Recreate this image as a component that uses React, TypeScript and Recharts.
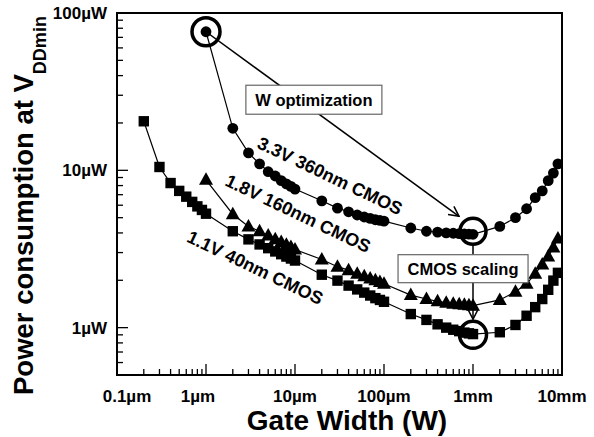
import React from 'react';
import {
  LineChart,
  Line,
  XAxis,
  YAxis,
  ReferenceLine,
  ReferenceDot,
  ReferenceArea,
} from 'recharts';

// gate width in um, power in uW
const wCircle = [1, 2, 3, 4, 5, 6, 7, 8, 9, 10, 20, 30, 40, 50, 60, 70, 80, 90, 100, 200, 300, 400, 500, 600, 700, 800, 900, 1000, 2000, 3000, 4000, 5000, 6000, 7000, 8000, 9000];
const pCircle = [76, 18.5, 12.9, 11.0, 9.8, 9.2, 8.6, 8.2, 7.9, 7.6, 6.4, 5.75, 5.45, 5.2, 5.05, 4.95, 4.85, 4.8, 4.75, 4.3, 4.1, 4.05, 4.0, 3.98, 3.96, 3.94, 3.93, 3.92, 4.4, 5.0, 5.7, 6.7, 7.4, 8.6, 9.6, 11.0];

const wTriangle = [1, 2, 3, 4, 5, 6, 7, 8, 9, 10, 20, 30, 40, 50, 60, 70, 80, 90, 100, 200, 300, 400, 500, 600, 700, 800, 900, 1000, 2000, 3000, 4000, 5000, 6000, 7000, 8000, 9000];
const pTriangle = [8.7, 5.26, 4.4, 4.1, 3.85, 3.65, 3.5, 3.37, 3.25, 3.14, 2.71, 2.44, 2.32, 2.2, 2.12, 2.05, 2.0, 1.95, 1.9, 1.61, 1.52, 1.47, 1.44, 1.42, 1.41, 1.4, 1.39, 1.38, 1.5, 1.69, 1.9, 2.2, 2.52, 2.83, 3.23, 3.69];

const wSquare = [0.2, 0.3, 0.4, 0.5, 0.6, 0.7, 0.8, 0.9, 1, 2, 3, 4, 5, 6, 7, 8, 9, 10, 20, 30, 40, 50, 60, 70, 80, 90, 100, 200, 300, 400, 500, 600, 700, 800, 900, 1000, 2000, 3000, 4000, 5000, 6000, 7000, 8000, 9000];
const pSquare = [20.5, 10.5, 8.3, 7.4, 6.8, 6.3, 5.9, 5.6, 5.3, 4.1, 3.64, 3.38, 3.2, 3.05, 2.93, 2.83, 2.75, 2.67, 2.17, 1.99, 1.85, 1.75, 1.67, 1.6, 1.54, 1.5, 1.46, 1.22, 1.12, 1.05, 1.0, 0.97, 0.95, 0.93, 0.92, 0.91, 0.935, 1.04, 1.19, 1.35, 1.52, 1.74, 1.99, 2.23];

const xMajor = [0.1, 1, 10, 100, 1000, 10000];
const xLabels = ['0.1\u00b5m', '1\u00b5m', '10\u00b5m', '100\u00b5m', '1mm', '10mm'];
const yMajor = [1, 10, 100];
const yLabels = ['1\u00b5W', '10\u00b5W', '100\u00b5W'];

const FONT = '"Liberation Sans", Arial, sans-serif';

const withMinors = (majors: number[], lo: number, hi: number) => {
  const out: number[] = [];
  majors.forEach((d) => {
    for (let k = 1; k <= 9; k++) {
      const v = Number((d * k).toPrecision(3));
      if (v >= lo && v <= hi) out.push(v);
    }
  });
  return out;
};

const xTicks = withMinors([0.1, 1, 10, 100, 1000, 10000], 0.1, 10000);
const yTicks = withMinors([0.1, 1, 10, 100], 0.5, 100);

const toPoints = (xs: number[], ys: number[]) => xs.map((w, i) => ({ w, p: ys[i] }));
const circleData = toPoints(wCircle, pCircle);
const triangleData = toPoints(wTriangle, pTriangle);
const squareData = toPoints(wSquare, pSquare);

const XTick = (props: any) => {
  const { x, y, payload } = props;
  const i = xMajor.indexOf(payload.value);
  const major = i >= 0;
  const nudge = i === 0 ? 10 : i === 1 ? -8 : 0;
  return (
    <g>
      <line x1={x} x2={x} y1={y} y2={y - (major ? 11 : 6)} stroke="#000" strokeWidth={1.3} />
      {major && (
        <text x={x + nudge} y={y + 27} textAnchor="middle" fontFamily={FONT} fontWeight="bold" fontSize={17} fill="#000">
          {xLabels[i]}
        </text>
      )}
    </g>
  );
};

const YTick = (props: any) => {
  const { x, y, payload } = props;
  const i = yMajor.indexOf(payload.value);
  const major = i >= 0;
  return (
    <g>
      <line x1={x} x2={x + (major ? 11 : 6)} y1={y} y2={y} stroke="#000" strokeWidth={1.3} />
      {major && (
        <text x={x - 10} y={y + 6} textAnchor="end" fontFamily={FONT} fontWeight="bold" fontSize={17} fill="#000">
          {yLabels[i]}
        </text>
      )}
    </g>
  );
};

const CircleDot = (props: any) => {
  const { cx, cy, index } = props;
  return <circle key={`c${index}`} cx={cx} cy={cy} r={5.4} fill="#000" />;
};

const SquareDot = (props: any) => {
  const { cx, cy, index } = props;
  return <rect key={`s${index}`} x={cx - 5.2} y={cy - 5.2} width={10.4} height={10.4} fill="#000" />;
};

const TriangleDot = (props: any) => {
  const { cx, cy, index } = props;
  return <path key={`t${index}`} d={`M${cx},${cy - 7.5} L${cx + 7},${cy + 5} L${cx - 7},${cy + 5} Z`} fill="#000" />;
};

const curveLabel = (text: string) => (p: any) => (
  <text
    x={p.cx}
    y={p.cy}
    transform={`rotate(25.5 ${p.cx} ${p.cy})`}
    textAnchor="middle"
    dominantBaseline="central"
    fontFamily={FONT}
    fontWeight="bold"
    fontSize={18}
    fill="#000"
  >
    {text}
  </text>
);

const boxLabel = (text: string, w: number, h: number) => (p: any) => (
  <g>
    <rect x={p.cx - w / 2} y={p.cy - h / 2} width={w} height={h} fill="#fff" stroke="#666" strokeWidth={1.2} />
    <text x={p.cx} y={p.cy} textAnchor="middle" dominantBaseline="central" fontFamily={FONT} fontWeight="bold" fontSize={16.5} fill="#000">
      {text}
    </text>
  </g>
);

export default function App() {
  return (
    <div style={{ position: 'absolute', left: 0, top: 0, background: '#fff' }}>
      <LineChart width={594} height={437} margin={{ top: 13, right: 32, left: 0, bottom: 0 }}>
        <defs>
          <marker id="openArrow" viewBox="0 0 12 12" refX="11" refY="6" markerWidth="12" markerHeight="12" markerUnits="userSpaceOnUse" orient="auto">
            <path d="M1,1 L11,6 L1,11" fill="none" stroke="#000" strokeWidth={1.5} />
          </marker>
        </defs>
        <XAxis
          dataKey="w"
          type="number"
          scale="log"
          domain={[0.1, 10000]}
          allowDataOverflow
          ticks={xTicks}
          interval={0}
          tickSize={0}
          tickMargin={0}
          tickLine={false}
          tick={<XTick />}
          height={62}
          axisLine={{ stroke: '#000', strokeWidth: 2 }}
          label={{
            content: () => (
              <text x={347} y={430} textAnchor="middle" fontFamily={FONT} fontWeight="bold" fontSize={28} fill="#000">
                Gate Width (W)
              </text>
            ),
          }}
        />
        <YAxis
          dataKey="p"
          type="number"
          scale="log"
          domain={[0.5, 100]}
          allowDataOverflow
          ticks={yTicks}
          interval={0}
          tickSize={0}
          tickMargin={0}
          tickLine={false}
          tick={<YTick />}
          width={117}
          axisLine={{ stroke: '#000', strokeWidth: 2 }}
          label={{
            content: () => (
              <text transform="translate(33 395) rotate(-90)" textAnchor="start" fontFamily={FONT} fontWeight="bold" fontSize={27.5} fill="#000">
                Power consumption at V
                <tspan fontSize={18} dy={13}>DDmin</tspan>
              </text>
            ),
          }}
        />
        <ReferenceArea x1={0.1} x2={10000} y1={0.5} y2={100} fill="none" stroke="#000" strokeWidth={2} />

        <Line data={circleData} dataKey="p" stroke="#000" strokeWidth={1.2} dot={<CircleDot />} isAnimationActive={false} />
        <Line data={triangleData} dataKey="p" stroke="#000" strokeWidth={1.2} dot={<TriangleDot />} isAnimationActive={false} />
        <Line data={squareData} dataKey="p" stroke="#000" strokeWidth={1.2} dot={<SquareDot />} isAnimationActive={false} />

        <ReferenceLine segment={[{ x: 1, y: 76 }, { x: 697, y: 5.1 }]} stroke="#000" strokeWidth={1.5} markerEnd="url(#openArrow)" />
        <ReferenceLine segment={[{ x: 1000, y: 3.45 }, { x: 1000, y: 1.13 }]} stroke="#000" strokeWidth={1.5} markerEnd="url(#openArrow)" />

        <ReferenceDot x={1} y={76} r={14} fill="none" stroke="#000" strokeWidth={3.5} />
        <ReferenceDot x={1000} y={4.1} r={13} fill="none" stroke="#000" strokeWidth={3.5} />
        <ReferenceDot x={1000} y={0.9} r={13.5} fill="none" stroke="#000" strokeWidth={3.5} />

        <ReferenceDot x={16.3} y={28.1} r={1} shape={boxLabel('W optimization', 136, 29)} />
        <ReferenceDot x={773} y={2.37} r={1} shape={boxLabel('CMOS scaling', 130, 28)} />

        <ReferenceDot x={24.7} y={9.2} r={1} shape={curveLabel('3.3V 360nm CMOS')} />
        <ReferenceDot x={10.8} y={5.3} r={1} shape={curveLabel('1.8V 160nm CMOS')} />
        <ReferenceDot x={3.56} y={2.4} r={1} shape={curveLabel('1.1V 40nm CMOS')} />
      </LineChart>
    </div>
  );
}
